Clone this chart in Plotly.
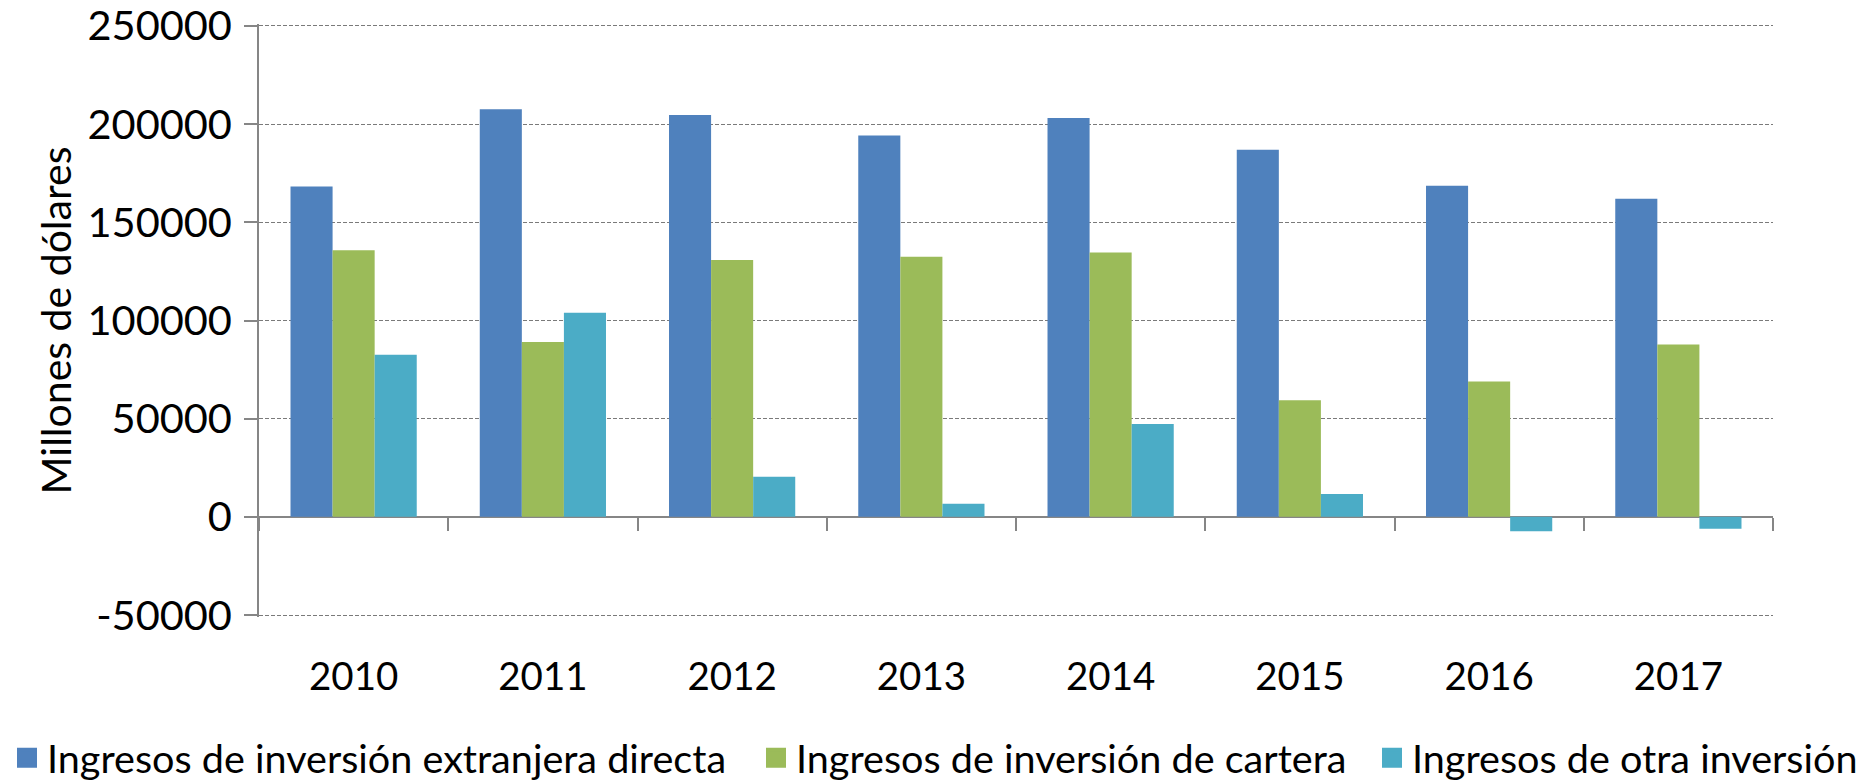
import plotly.graph_objects as go

years = ["2010", "2011", "2012", "2013", "2014", "2015", "2016", "2017"]
directa = [168200, 207600, 204700, 194200, 203100, 186900, 168600, 162000]
cartera = [135800, 89100, 130800, 132500, 134600, 59400, 68900, 87800]
otra = [82600, 104000, 20400, 6700, 47300, 11600, -7300, -6000]

names = ["Ingresos de inversión extranjera directa",
         "Ingresos de inversión de cartera",
         "Ingresos de otra inversión"]
colors = ["#4F81BD", "#9BBB59", "#4BACC6"]
yticks = [-50000, 0, 50000, 100000, 150000, 200000, 250000]
boundaries = [-0.5, 0.5, 1.5, 2.5, 3.5, 4.5, 5.5, 6.5, 7.5]

FONT = "Lato"
GRAY = "#868686"
legend_ids = ["legend", "legend2", "legend3"]
legend_x = [7, 756, 1372]  # left edge of each legend box, in container pixels

fig = go.Figure()
for n, vals, c, lg in zip(names, [directa, cartera, otra], colors, legend_ids):
    fig.add_trace(go.Bar(x=years, y=vals, name=n, legendgroup=n, showlegend=False,
                         marker=dict(color=c, line=dict(width=0))))
    # legend-only entry with a larger square swatch
    fig.add_trace(go.Scatter(x=[years[0]], y=[None], name=n, legendgroup=n,
                             legend=lg, mode="markers", showlegend=True,
                             marker=dict(symbol="square", size=24, color=c,
                                         line=dict(color=c, width=4)),
                             hoverinfo="skip"))

legend_common = dict(orientation="h", xref="container", yref="container",
                     xanchor="left", y=0.0282, yanchor="middle",
                     font=dict(family=FONT, size=39.6, color="black"),
                     itemsizing="trace", bgcolor="rgba(0,0,0,0)",
                     borderwidth=0)

fig.update_layout(
    width=1866, height=780, autosize=False,
    margin=dict(l=259, r=93, t=24, b=163, autoexpand=False),
    paper_bgcolor="white", plot_bgcolor="white",
    font=dict(family=FONT, size=40, color="black"),
    barmode="group", bargap=0.333, bargroupgap=0,
    showlegend=True,
    legend=dict(legend_common, x=legend_x[0] / 1866),
    legend2=dict(legend_common, x=legend_x[1] / 1866),
    legend3=dict(legend_common, x=legend_x[2] / 1866),
    xaxis=dict(type="category", range=[-0.5, 7.5], showline=False, ticks="",
               showgrid=False, zeroline=False, ticklabelstandoff=33,
               automargin=False, ticklabeloverflow="allow",
               tickfont=dict(family=FONT, size=38.5)),
    xaxis2=dict(overlaying="x", anchor="free", position=51000 / 302000, type="linear",
                range=[-0.5, 7.5], tickvals=boundaries, showticklabels=False,
                ticks="outside", ticklen=13, tickcolor=GRAY, tickwidth=1.5,
                showline=False, showgrid=False, zeroline=False, automargin=False),
    yaxis=dict(range=[-51000, 251000], tickvals=yticks,
               ticktext=[str(v) for v in yticks], automargin=False,
               ticklabeloverflow="allow",
               showline=True, linecolor=GRAY, linewidth=1.5,
               ticks="outside", ticklen=13, tickcolor=GRAY, tickwidth=1.5,
               showgrid=True, gridcolor="#7A7A7A", gridwidth=1.4, griddash="4px,2px",
               zeroline=True, zerolinecolor=GRAY, zerolinewidth=1.8,
               ticklabelstandoff=4,
               title=dict(text="Millones de dólares", standoff=3,
                          font=dict(family=FONT, size=41)),
               tickfont=dict(family=FONT, size=41.5)),
)
# invisible helper trace so the boundary-tick axis is drawn
fig.add_trace(go.Scatter(x=[-0.5], y=[0], xaxis="x2", yaxis="y", mode="markers",
                         marker=dict(opacity=0), showlegend=False, hoverinfo="skip"))

fig.write_html("out.html", config={"displayModeBar": False},
               post_script="document.body.style.margin='0';document.body.style.overflow='hidden';")
